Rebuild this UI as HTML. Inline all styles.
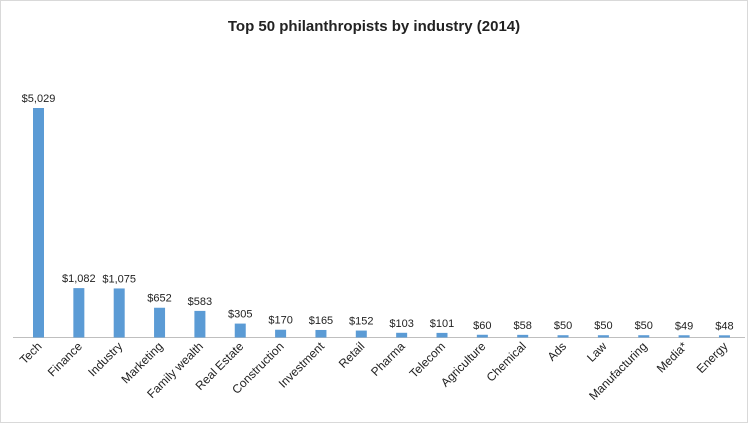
<!DOCTYPE html>
<html><head><meta charset="utf-8"><style>
body{margin:0;background:#fff;}
#wrap{position:relative;width:748px;height:423px;box-sizing:border-box;border:1px solid #d9d9d9;background:#fff;}
svg text{font-family:"Liberation Sans",sans-serif;fill:#222;}
</style></head><body>
<div id="wrap">
<svg id="chart" width="746" height="421">
<text x="373" y="30" text-anchor="middle" font-size="15" font-weight="bold">Top 50 philanthropists by industry (2014)</text>
<line x1="12" y1="336.5" x2="744" y2="336.5" stroke="#bfbfbf" stroke-width="1"></line>
<g id="bars"></g>
</svg>
</div>
<script>
const categories=["Tech","Finance","Industry","Marketing","Family wealth","Real Estate","Construction","Investment","Retail","Pharma","Telecom","Agriculture","Chemical","Ads","Law","Manufacturing","Media*","Energy"];
const values=[5029,1082,1075,652,583,305,170,165,152,103,101,60,58,50,50,50,49,48];
const valueLabels=["$5,029","$1,082","$1,075","$652","$583","$305","$170","$165","$152","$103","$101","$60","$58","$50","$50","$50","$49","$48"];
const NS="http://www.w3.org/2000/svg";
const baseY=336.5, pxPerUnit=229.5/5029;
function xCenter(i){return 37.5+i*40.35;}
function yVal(v){return baseY-v*pxPerUnit;}
const g=document.getElementById('bars');
categories.forEach((c,i)=>{
  const cx=xCenter(i), y=yVal(values[i]);
  const r=document.createElementNS(NS,'rect');
  r.setAttribute('x',cx-5.5);r.setAttribute('y',y);r.setAttribute('width',11);r.setAttribute('height',baseY-y);
  r.setAttribute('fill','#5b9bd5');
  
  
  g.appendChild(r);
  const t=document.createElementNS(NS,'text');
  t.setAttribute('x',cx);t.setAttribute('y',y-6);t.setAttribute('text-anchor','middle');t.setAttribute('font-size','11');
  t.textContent=valueLabels[i];
  
  
  g.appendChild(t);
  const l=document.createElementNS(NS,'text');
  l.setAttribute('text-anchor','end');l.setAttribute('font-size','12');
  l.setAttribute('transform','translate('+(cx+4)+',346) rotate(-45)');
  l.textContent=c;
  
  
  g.appendChild(l);
});
</script>
</body></html>
